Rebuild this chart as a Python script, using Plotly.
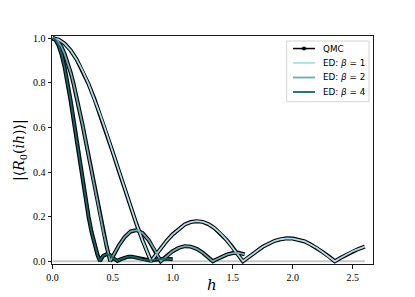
import plotly.graph_objects as go

# ---------------- data ----------------
h_b1 = [0.00, 0.05, 0.10, 0.15, 0.20, 0.25, 0.30, 0.35, 0.40, 0.45, 0.50, 0.55, 0.60, 0.65,
        0.70, 0.75, 0.80, 0.82, 0.85, 0.90, 0.95, 1.00, 1.05, 1.10, 1.15, 1.20, 1.25, 1.30,
        1.35, 1.40, 1.45, 1.50, 1.55, 1.585, 1.60, 1.65, 1.70, 1.75, 1.80, 1.85, 1.90, 1.95,
        2.00, 2.05, 2.10, 2.15, 2.20, 2.25, 2.30, 2.35, 2.40, 2.45, 2.50, 2.55, 2.60]
r_b1 = [1.000, 0.994, 0.976, 0.946, 0.905, 0.854, 0.794, 0.726, 0.652, 0.573, 0.491, 0.408,
        0.324, 0.243, 0.165, 0.092, 0.025, 0.000, 0.022, 0.058, 0.092, 0.121, 0.145, 0.165,
        0.176, 0.180, 0.177, 0.166, 0.148, 0.124, 0.095, 0.062, 0.025, 0.000, 0.006, 0.027,
        0.046, 0.065, 0.079, 0.092, 0.099, 0.103, 0.102, 0.097, 0.089, 0.075, 0.060, 0.041,
        0.022, 0.000, 0.016, 0.031, 0.045, 0.056, 0.066]

h_b2 = [0.000, 0.025, 0.050, 0.075, 0.100, 0.125, 0.150, 0.175, 0.200, 0.225, 0.250, 0.275,
        0.300, 0.325, 0.350, 0.375, 0.400, 0.425, 0.450, 0.480, 0.500, 0.550, 0.600, 0.650,
        0.700, 0.750, 0.800, 0.850, 0.900, 0.950, 1.000, 1.050, 1.100, 1.150, 1.200, 1.250,
        1.300, 1.335, 1.350, 1.400, 1.450, 1.500, 1.550, 1.600]
r_b2 = [1.000, 0.996, 0.982, 0.960, 0.929, 0.892, 0.847, 0.795, 0.738, 0.676, 0.610, 0.541,
        0.471, 0.400, 0.328, 0.259, 0.191, 0.127, 0.066, 0.000, 0.021, 0.070, 0.109, 0.134,
        0.140, 0.126, 0.095, 0.051, 0.000, 0.024, 0.045, 0.060, 0.068, 0.066, 0.056, 0.039,
        0.017, 0.000, 0.005, 0.019, 0.030, 0.037, 0.038, 0.031]

h_b4 = [0.000, 0.025, 0.050, 0.075, 0.100, 0.125, 0.150, 0.175, 0.200, 0.225, 0.250, 0.275,
        0.300, 0.325, 0.350, 0.375, 0.395, 0.420, 0.450, 0.480, 0.510, 0.540, 0.570, 0.600,
        0.630, 0.660, 0.690, 0.720, 0.750, 0.780, 0.810, 0.840, 0.870, 0.900, 0.930, 0.960,
        1.000]
r_b4 = [1.000, 0.992, 0.967, 0.926, 0.870, 0.800, 0.720, 0.633, 0.542, 0.450, 0.360, 0.275,
        0.198, 0.130, 0.072, 0.027, 0.002, 0.024, 0.032, 0.027, 0.012, 0.002, 0.010, 0.017,
        0.021, 0.021, 0.018, 0.013, 0.008, 0.005, 0.004, 0.006, 0.009, 0.011, 0.012, 0.011,
        0.009]

betas = [1, 2, 4]
ed_colors = ["#b0e0e6", "#6fa8b2", "#17646b"]
legend_labels = ["QMC"] + [f"ED: <i>β</i> = {b}" for b in betas]

x_ticks = [0.0, 0.5, 1.0, 1.5, 2.0, 2.5]
y_ticks = [0.0, 0.2, 0.4, 0.6, 0.8, 1.0]
zero_line_span = [0.0, 2.6]

series = [(h_b1, r_b1), (h_b2, r_b2), (h_b4, r_b4)]

# ---------------- figure ----------------
fig = go.Figure()

# QMC (black band, drawn first)
for i, (h, r) in enumerate(series):
    fig.add_trace(go.Scatter(x=h, y=r, mode="lines", line=dict(color="black", width=4),
                             name="QMC", legendgroup="qmc", showlegend=False,
                             hoverinfo="skip"))

# ED lines on top
for (h, r), b, c in zip(series, betas, ed_colors):
    fig.add_trace(go.Scatter(x=h, y=r, mode="lines", line=dict(color=c, width=1.8),
                             name=f"ED: β = {b}", showlegend=False))

fig.add_shape(type="line", xref="x", yref="y", x0=zero_line_span[0], x1=zero_line_span[1],
              y0=0, y1=0, line=dict(color="#c8c8c8", width=2), layer="below")

# ---- legend drawn as a framed box (matplotlib style, compact rows) ----
lg_x0, lg_x1, lg_y0, lg_y1 = 0.731, 0.9875, 0.712, 0.978
row_y = [0.945, 0.8816, 0.818, 0.7544]
samp_x0, samp_x1, text_x = 0.7508, 0.8193, 0.838
fig.add_shape(type="rect", xref="paper", yref="paper", x0=lg_x0, x1=lg_x1, y0=lg_y0, y1=lg_y1,
              line=dict(color="#d4d4d4", width=1), fillcolor="white", layer="above")
sample_colors = ["black"] + ed_colors
sample_widths = [1.5, 1.8, 1.8, 1.8]
annotations = []
for yy, col, w, lab in zip(row_y, sample_colors, sample_widths, legend_labels):
    fig.add_shape(type="line", xref="paper", yref="paper", x0=samp_x0, x1=samp_x1,
                  y0=yy, y1=yy, line=dict(color=col, width=w), layer="above")
    annotations.append(dict(text=lab, xref="paper", yref="paper", x=text_x, y=yy,
                            xanchor="left", yanchor="middle", showarrow=False,
                            font=dict(family="DejaVu Sans", size=8.8, color="black")))
# QMC marker dot in the legend sample
xc = (samp_x0 + samp_x1) / 2
fig.add_shape(type="circle", xref="paper", yref="paper", x0=xc - 0.0065, x1=xc + 0.0065,
              y0=row_y[0] - 0.009, y1=row_y[0] + 0.009, fillcolor="black",
              line=dict(color="black", width=0), layer="above")

axis_common = dict(showgrid=False, zeroline=False, showline=True, mirror=True,
                   linecolor="#1a1a1a", linewidth=1, ticks="outside", ticklen=3.5,
                   tickwidth=0.8, tickcolor="#1a1a1a", automargin=False,
                   tickfont=dict(family="Liberation Serif", size=10, color="black"))

annotations += [
    dict(text="|⟨<i>R</i><sub>0</sub>(<i>ih</i>)⟩|", xref="paper", yref="paper",
         x=-0.1, y=0.5, xanchor="center", yanchor="middle", textangle=-90, showarrow=False,
         font=dict(family="DejaVu Serif", size=14, color="black")),
    dict(text="<i>h</i>", xref="paper", yref="paper", x=0.498, y=-0.092,
         xanchor="center", yanchor="middle",
         showarrow=False, font=dict(family="DejaVu Serif", size=15, color="black")),
]

# The page body adds an 8 px offset, so the figure is sized to fit the 415x297 window.
fig.update_layout(
    width=407, height=289, autosize=False,
    margin=dict(l=44, r=42, t=28, b=33),
    paper_bgcolor="white", plot_bgcolor="white",
    showlegend=False,
    xaxis=dict(range=[-0.005, 2.668], tickvals=x_ticks,
               ticktext=[f"{v:.1f}" for v in x_ticks], **axis_common),
    yaxis=dict(range=[-0.012, 1.01], tickvals=y_ticks,
               ticktext=[f"{v:.1f}" for v in y_ticks], **axis_common),
    annotations=annotations,
)

fig.write_html("out.html")
